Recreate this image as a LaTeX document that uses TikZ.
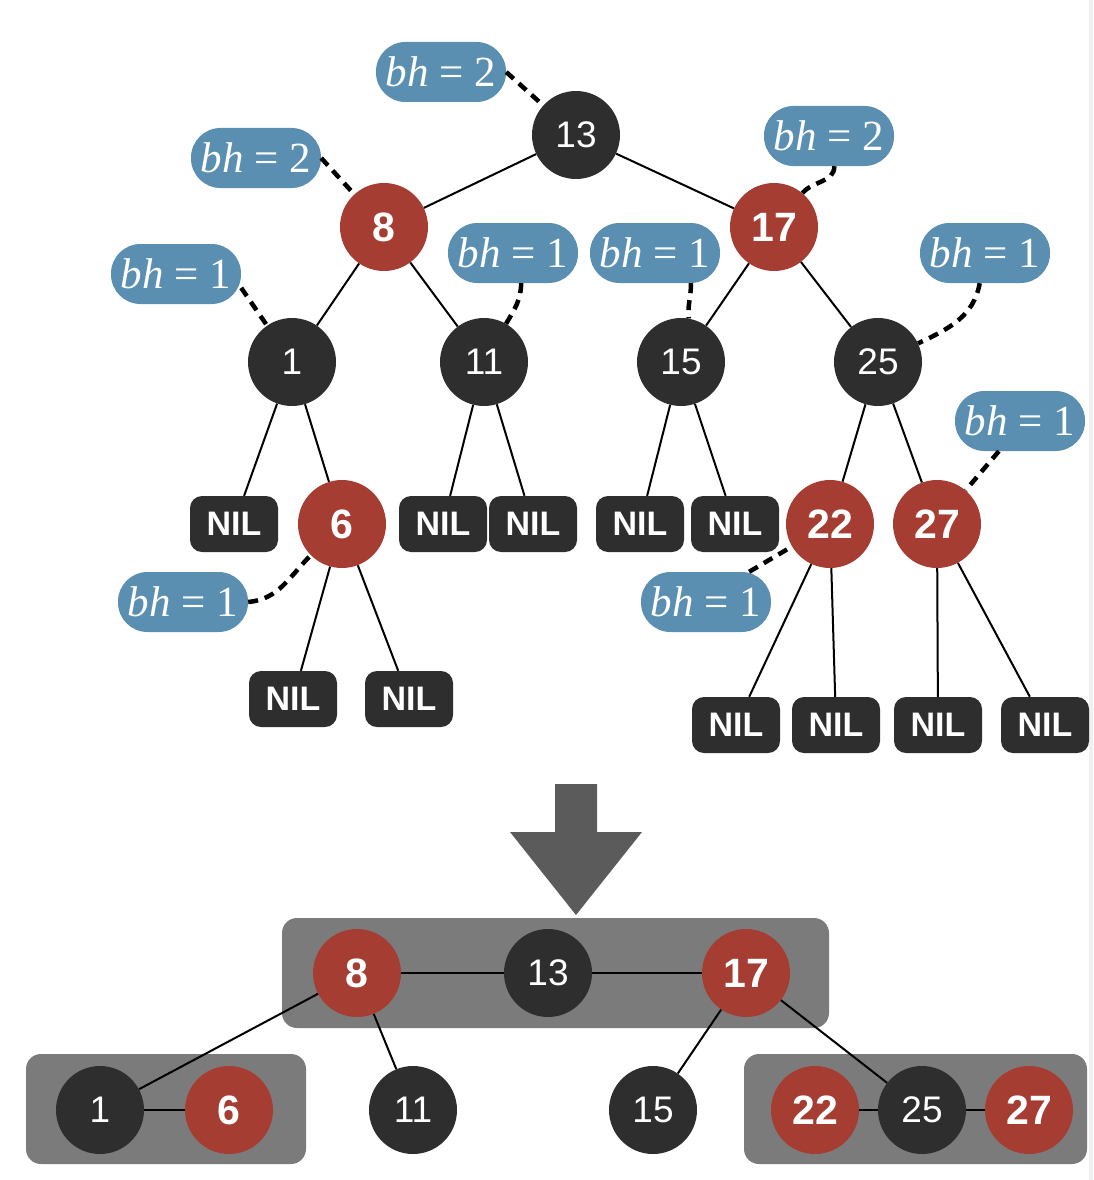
\documentclass[tikz,border=0pt]{standalone}
\usepackage{fontspec}
\setsansfont{Liberation Sans}
\newfontfamily\bhfont{Liberation Serif}
\definecolor{nblack}{HTML}{2E2E2E}
\definecolor{nred}{HTML}{A63D33}
\definecolor{nblue}{HTML}{5A8FB1}
\definecolor{boxgray}{HTML}{7B7B7B}
\definecolor{arrowgray}{HTML}{5B5B5B}
\begin{document}
\begin{tikzpicture}[x=1pt,y=-1pt,
  blknode/.style={circle, fill=nblack, minimum size=88pt, inner sep=0pt, text=white, font=\sffamily\fontsize{37}{37}\selectfont},
  rednode/.style={circle, fill=nred, minimum size=88pt, inner sep=0pt, text=white, font=\sffamily\bfseries\fontsize{41}{41}\selectfont},
  nilnode/.style={rectangle, rounded corners=12pt, fill=nblack, minimum width=88pt, minimum height=56pt, inner sep=0pt, text=white, font=\sffamily\bfseries\fontsize{34}{34}\selectfont},
  bhnode/.style={rectangle, rounded corners=29.5pt, fill=nblue, minimum width=130pt, minimum height=60pt, inner sep=0pt, text=white, font=\bhfont\fontsize{43}{43}\selectfont},
  edge/.style={line width=2pt, black},
  bhdash/.style={line width=4.5pt, black, dash pattern=on 10pt off 7pt}
]
\useasboundingbox (0,0) rectangle (1093,1180);
\fill[gray!12] (1089,0) rectangle (1093,1180);

% ---------- top tree ----------
\node[blknode] (n13) at (576,135) {13};
\node[rednode] (n8) at (384,227) {8};
\node[rednode] (n17) at (774,227) {17};
\node[blknode] (n1) at (292,362) {1};
\node[blknode] (n11) at (484,362) {11};
\node[blknode] (n15) at (681,362) {15};
\node[blknode] (n25) at (878,362) {25};
\node[nilnode] (nilA) at (234,524) {NIL};
\node[rednode] (n6) at (342,524) {6};
\node[nilnode] (nilB) at (443,524) {NIL};
\node[nilnode] (nilC) at (533,524) {NIL};
\node[nilnode] (nilD) at (640,524) {NIL};
\node[nilnode] (nilE) at (735,524) {NIL};
\node[rednode] (n22) at (830,524) {22};
\node[rednode] (n27) at (937,524) {27};
\node[nilnode] (nilF) at (293,699) {NIL};
\node[nilnode] (nilG) at (409,699) {NIL};
\node[nilnode] (nilH) at (736,725) {NIL};
\node[nilnode] (nilI) at (836,725) {NIL};
\node[nilnode] (nilJ) at (938,725) {NIL};
\node[nilnode] (nilK) at (1045,725) {NIL};

\draw[edge] (n13) -- (n8);
\draw[edge] (n13) -- (n17);
\draw[edge] (n8) -- (n1);
\draw[edge] (n8) -- (n11);
\draw[edge] (n17) -- (n15);
\draw[edge] (n17) -- (n25);
\draw[edge] (n1) -- (nilA);
\draw[edge] (n1) -- (n6);
\draw[edge] (n11) -- (nilB);
\draw[edge] (n11) -- (nilC);
\draw[edge] (n15) -- (nilD);
\draw[edge] (n15) -- (nilE);
\draw[edge] (n25) -- (n22);
\draw[edge] (n25) -- (n27);
\draw[edge] (n6) -- (nilF);
\draw[edge] (n6) -- (nilG);
\draw[edge] (n22) -- (nilH);
\draw[edge] (n22) -- (nilI);
\draw[edge] (n27) -- (nilJ);
\draw[edge] (n27) -- (nilK);

% ---------- bh labels ----------
\node[bhnode] (bhA) at (441,72) {\textit{bh} = 2};
\node[bhnode] (bhB) at (256,158) {\textit{bh} = 2};
\node[bhnode] (bhC) at (829,136) {\textit{bh} = 2};
\node[bhnode] (bhD) at (176,274) {\textit{bh} = 1};
\node[bhnode] (bhE) at (513,253) {\textit{bh} = 1};
\node[bhnode] (bhF) at (655,253) {\textit{bh} = 1};
\node[bhnode] (bhG) at (985,253) {\textit{bh} = 1};
\node[bhnode] (bhH) at (1020,421) {\textit{bh} = 1};
\node[bhnode] (bhI) at (183,602) {\textit{bh} = 1};
\node[bhnode] (bhJ) at (706,602) {\textit{bh} = 1};

\draw[bhdash] (bhA.east) -- (n13);
\draw[bhdash] (bhB.east) -- (n8);
\draw[bhdash] (bhC.-80) to[out=-90,in=50] (n17);
\draw[bhdash] (bhD.-12) -- (n1);
\draw[bhdash] (bhE.-75) to[out=-90,in=60] (n11);
\draw[bhdash] (bhF.-40) to[out=-90,in=95] (n15.80);
\draw[bhdash] (bhG.-100) to[out=-100,in=25] (n25);
\draw[bhdash] (bhH.-125) -- (n27);
\draw[bhdash] (bhI.east) to[out=5,in=-135] (n6);
\draw[bhdash] (bhJ.35) -- (n22);

% ---------- arrow ----------
\fill[arrowgray] (555,784) -- (597,784) -- (597,832) -- (642,832) -- (576,915) -- (510,832) -- (555,832) -- cycle;

% ---------- bottom (2-3-4 tree) ----------
\fill[boxgray, rounded corners=15pt] (282,918) rectangle (829,1028);
\fill[boxgray, rounded corners=15pt] (26,1054) rectangle (306,1164);
\fill[boxgray, rounded corners=15pt] (744,1054) rectangle (1087,1164);

\node[rednode] (b8) at (357,973) {8};
\node[blknode] (b13) at (548,973) {13};
\node[rednode] (b17) at (746,973) {17};
\node[blknode] (b1) at (100,1110) {1};
\node[rednode] (b6) at (229,1110) {6};
\node[blknode] (b11) at (413,1110) {11};
\node[blknode] (b15) at (653,1110) {15};
\node[rednode] (b22) at (815,1110) {22};
\node[blknode] (b25) at (922,1110) {25};
\node[rednode] (b27) at (1029,1110) {27};

\draw[edge] (b8) -- (b13);
\draw[edge] (b13) -- (b17);
\draw[edge] (b8) -- (b1);
\draw[edge] (b8) -- (b11);
\draw[edge] (b17) -- (b15);
\draw[edge] (b17) -- (b25);
\draw[edge] (b1) -- (b6);
\draw[edge] (b22) -- (b25);
\draw[edge] (b25) -- (b27);
\end{tikzpicture}
\end{document}
